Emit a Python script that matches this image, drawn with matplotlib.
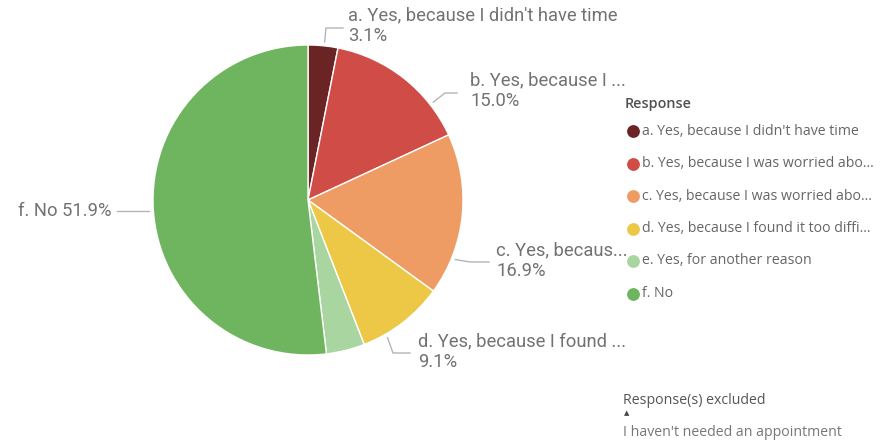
import numpy as np
import matplotlib.pyplot as plt

responses = ["a. Yes, because I didn't have time",
             "b. Yes, because I was worried abo...",
             "c. Yes, because I was worried abo...",
             "d. Yes, because I found it too diffi...",
             "e. Yes, for another reason",
             "f. No"]
short_labels = ["a. Yes, because I didn't have time",
                "b. Yes, because I ...",
                "c. Yes, becaus...",
                "d. Yes, because I found ...",
                None,
                "f. No"]
shares = [3.1, 15.0, 16.9, 9.1, 4.0, 51.9]
colors = ['#6B2424', '#D04C47', '#EE9C64', '#ECC846', '#A8D5A0', '#6FB55F']

W, H = 885, 443
fig = plt.figure(figsize=(W / 100, H / 100), dpi=100)
ax = fig.add_axes([0, 0, 1, 1])

cx, cy, r = 308, H - 200, 155
wedges, _ = ax.pie(shares, colors=colors, startangle=90, counterclock=False,
                   center=(cx, cy), radius=r,
                   wedgeprops=dict(linewidth=1, edgecolor='white'))
ax.set_xlim(0, W)
ax.set_ylim(0, H)
ax.axis('off')

label_font = ['Roboto', 'DejaVu Sans']
lab_col = '#727272'
line_col = '#b4b4b4'

# leader start angle, elbow x, elbow y, end x, text x, first line y  (pixels from top-left)
layout = {
    0: (84, 326, 28, 343, 348, 15),
    1: (38, 445, 93, 457, 470, 80),
    2: (-22, 470, 262, 489, 496, 250),
    3: (-60, 393, 353, 410, 418, 341),
}
for i, (ang, ex, ey, endx, tx, ty) in layout.items():
    a = np.deg2rad(ang)
    sx = cx + (r + 4) * np.cos(a)
    sy = cy + (r + 4) * np.sin(a)
    ax.plot([sx, ex, endx], [sy, H - ey, H - ey], color=line_col, lw=1)
    ax.text(tx, H - ty, short_labels[i], family=label_font,
            fontsize=13.2, color=lab_col, va='center', ha='left')
    ax.text(tx, H - ty - 21, "%.1f%%" % shares[i], family=label_font,
            fontsize=13.2, color=lab_col, va='center', ha='left')

# f label
ax.plot([cx - r - 4, 117], [H - 211, H - 211], color=line_col, lw=1)
ax.text(111, H - 211, "f. No %.1f%%" % shares[5], family=label_font, fontsize=13.2,
        color=lab_col, va='center', ha='right')

# legend
leg_font = ['Open Sans', 'DejaVu Sans']
ax.text(625, H - 104, "Response", family=leg_font, fontsize=10.4, color='#505050',
        fontweight='semibold', va='center')
for k, (name, c) in enumerate(zip(responses, colors)):
    y = H - (131 + k * 32.5)
    ax.scatter([633], [y], s=85, color=c, zorder=3, linewidths=0)
    ax.text(642, y, name, family=leg_font, fontsize=10.2, color='#666666', va='center')

ax.text(623, H - 401, "Response(s) excluded", family=leg_font, fontsize=10.2,
        color='#555555', va='center')
ax.text(627, H - 413, "\u25B2", fontsize=5, color='#444444', va='center', ha='center')
ax.text(623, H - 432, "I haven't needed an appointment", family=leg_font, fontsize=10.2,
        color='#777777', va='center')

fig.savefig('out.png', dpi=100)
